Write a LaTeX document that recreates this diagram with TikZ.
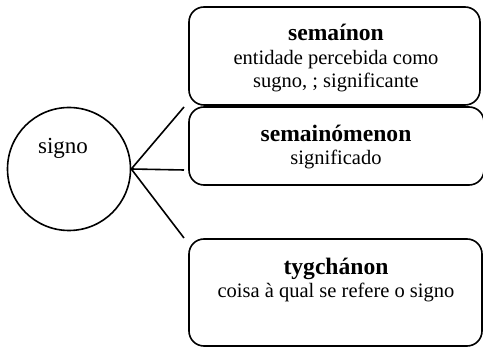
\documentclass[tikz,border=0pt]{standalone}
\usepackage{fontspec}
\setmainfont{Liberation Serif}
\newcommand{\hd}[1]{{\fontsize{11.8}{12}\selectfont\bfseries #1}}
\begin{document}
\begin{tikzpicture}[x=0.5pt,y=-0.5pt,
  box/.style={draw,line width=0.8pt,rounded corners=7.5pt,inner sep=0pt},
  lbl/.style={align=center,font=\fontsize{10.25}{11.75}\selectfont,inner sep=0pt},
  conn/.style={line width=0.8pt}]
\useasboundingbox (0,0) rectangle (483,347);
\node[draw,circle,line width=0.8pt,minimum size=61.5pt,inner sep=0pt] (c) at (69,169) {};
\node[lbl,font=\fontsize{11.5}{13}\selectfont] (ct) at (63,148) {signo};
\node[box,minimum width=145.5pt,minimum height=49pt] (b1) at (334.5,56) {};
\node[box,minimum width=147.5pt,minimum height=39pt] (b2) at (336.5,146) {};
\node[box,minimum width=146.5pt,minimum height=53.5pt] (b3) at (335.5,292.5) {};
\node[lbl] (t1) at (336,58.5) {\hd{semaínon}\\entidade percebida como\\sugno, ; significante};
\node[lbl] (t2) at (336,147) {\hd{semainómenon}\\significado};
\node[lbl] (t3) at (336,280) {\hd{tygchánon}\\coisa à qual se refere o signo};
\coordinate (e1) at (184,107);
\coordinate (e2) at (184,170);
\coordinate (e3) at (184,238);
\draw[conn] (c.east) -- (e1);
\draw[conn] (c.east) -- (e2);
\draw[conn] (c.east) -- (e3);
\end{tikzpicture}
\end{document}
